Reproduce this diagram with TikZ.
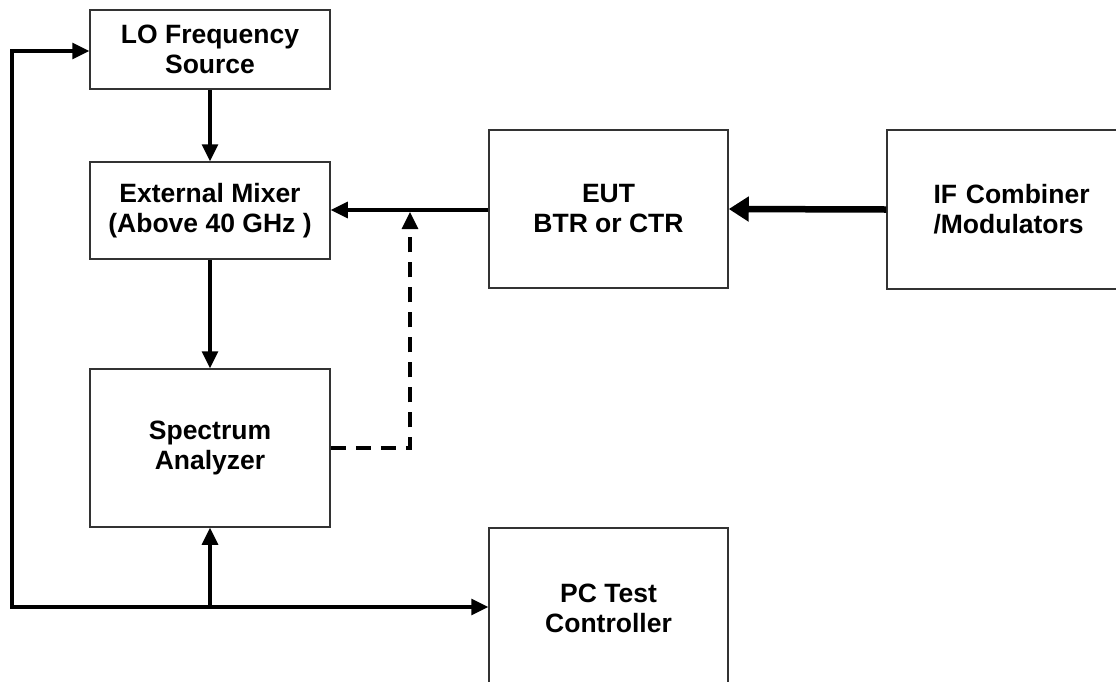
\documentclass[tikz,border=0pt]{standalone}
\usepackage{fontspec}
\setmainfont{Liberation Sans}
\usetikzlibrary{arrows.meta}
\begin{document}
\begin{tikzpicture}[x=1pt,y=-1pt,
  blk/.style={draw=black!80,line width=1.5pt,fill=none,inner sep=0pt,
    font=\fontsize{26.5}{30}\selectfont\bfseries,align=center},
  conn/.style={line width=3.1pt,-{Triangle[length=17pt,width=16pt]}},
  thick conn/.style={line width=6.5pt,-{Triangle[length=20pt,width=24pt]}},
  dashconn/.style={line width=3.1pt,dash pattern=on 15pt off 10pt,-{Triangle[length=17pt,width=16pt]}}]
\useasboundingbox (0,0) rectangle (1116,681);
\clip (0,0) rectangle (1116,681);
% boxes
\node[blk,minimum width=240pt,minimum height=79pt] (lo) at (210,49.5) {LO Frequency\\Source};
\node[blk,minimum width=240pt,minimum height=97pt] (mix) at (210,210.5) {External Mixer\\(Above 40 GHz )};
\node[blk,minimum width=240pt,minimum height=158pt] (sa) at (210,448) {Spectrum\\Analyzer};
\node[blk,minimum width=239pt,minimum height=158pt] (eut) at (608.5,209) {EUT\\BTR or CTR};
\node[blk,minimum width=240pt,minimum height=159pt,text width=229pt,align=left] (if) at (1007,209.5) {\hspace*{41pt}IF Combiner\\\hspace*{41pt}/Modulators};
\node[blk,minimum width=239pt,minimum height=180pt] (pc) at (608.5,618) {};
\node[font=\fontsize{26.5}{30}\selectfont\bfseries,align=center] (pct) at (608.5,608) {PC Test\\Controller};
% coordinates
\coordinate (busL) at (12,607);
\coordinate (topL) at (12,51);
\coordinate (busM) at (210,607);
\coordinate (dj) at (410,448);
% connectors
\draw[conn] (lo.south) -- (mix.north);
\draw[conn] (mix.south) -- (sa.north);
\draw[conn] (eut.west |- 0,210) -- (mix.east |- 0,210);
\draw[thick conn] (if.west) -- (eut.east);
\draw[dashconn] (sa.east |- dj) -- (dj) -- (410,212);
\draw[conn,line cap=rect] (busL) -- (pc.west |- busL);
\draw[conn,line cap=rect] (busL) -- (topL) -- (lo.west |- topL);
\draw[conn] (busM) -- (sa.south);
\end{tikzpicture}
\end{document}
